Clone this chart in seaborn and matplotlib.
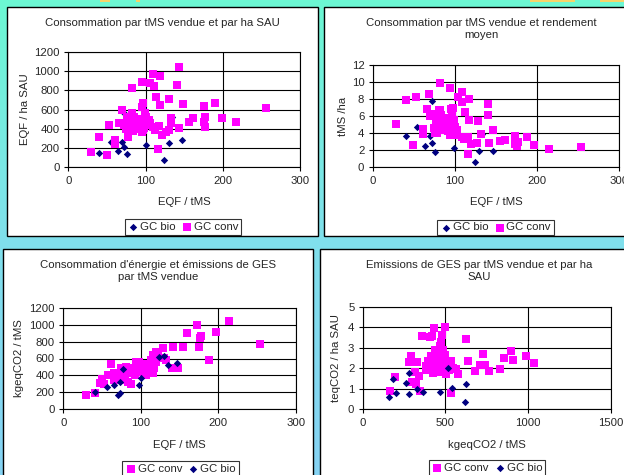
import numpy as np
import pandas as pd
import matplotlib
matplotlib.use("Agg")
from matplotlib import pyplot as plt
from matplotlib.patches import Rectangle
import seaborn as sns

# ---- data ----
# haut gauche : EQF / tMS  vs  EQF / ha SAU
tl_bio_x = [40, 55, 64, 70, 72, 72, 76, 97, 100, 124, 130, 134, 147]
tl_bio_y = [150, 265, 170, 260, 215, 565, 135, 615, 228, 76, 250, 520, 284]
tl_conv_x = [29, 50, 40, 52, 61, 61, 69.6, 82.6, 95.7, 106, 110, 119, 110.4, 142.6, 141,
             114, 129.6, 119, 96.5, 95.7, 147.8, 175, 190, 256, 161.7, 155.7, 177, 175,
             177, 198.7, 217, 143.5, 132.6, 133, 130.4, 126, 121.7, 117.4, 116.5, 112,
             82.6, 99, 77.4, 95.7, 78, 65, 82.6, 104, 100, 76, 89, 93.5,
             80, 86, 90, 98, 103, 84, 72, 92, 106, 88, 75, 96, 110, 101, 85, 70]
tl_conv_y = [156, 128, 318, 436, 283, 241, 595, 823, 882, 880, 966, 948, 844, 1041, 855,
             730, 709, 647, 664, 630, 657, 640, 664, 616, 509, 473, 526, 473,
             415, 516, 467, 405, 516, 457, 387, 370, 335, 429, 187, 387,
             560, 560, 311, 370, 457, 462, 491, 491, 525, 525, 422, 474,
             430, 400, 450, 410, 440, 380, 440, 500, 455, 470, 400, 390, 420, 470, 520, 460]

# haut droite : EQF / tMS  vs  tMS / ha
tr_bio_x = [40, 54.5, 64, 69.5, 72.7, 72.7, 76, 97, 99.4, 124, 129.7, 132.5, 146.7]
tr_bio_y = [3.7, 4.7, 2.55, 3.67, 2.9, 7.8, 1.76, 6.4, 2.23, 0.59, 1.95, 3.9, 1.95]
tr_conv_x = [28.7, 40, 49.3, 53, 60.6, 60.6, 68.7, 66, 70, 75, 76, 82, 82, 94, 95, 97.4,
             104, 108.7, 108.7, 117, 112, 117, 116, 116, 120, 127, 128, 131.7, 140.6,
             139.8, 141.4, 146.7, 154.7, 160.8, 173.3, 173, 175.8, 177, 188, 196, 214, 253,
             74.7, 76.8, 78.8, 80.8, 82.8, 84.8, 86.9, 89.7, 92, 93.7, 96.2, 97, 98.6,
             101, 103, 99, 93.7, 109, 111, 72.7, 76.8, 80.8, 82.8, 100, 103]
tr_conv_y = [5.08, 7.9, 2.58, 8.2, 4.53, 3.85, 8.55, 6.85, 6.0, 6.2, 4.0, 9.85, 6.7, 9.26,
             6.8, 6.9, 8.2, 8.87, 7.65, 7.97, 6.45, 5.5, 1.56, 3.6, 2.73, 2.9, 5.42, 3.85,
             7.38, 6.1, 2.82, 4.42, 3.05, 3.2, 3.72, 2.75, 2.45, 2.95, 3.5, 2.58, 2.15, 2.42,
             4.6, 5.2, 4.02, 4.8, 5.4, 4.4, 5.0, 5.8, 4.2, 5.2, 6.0, 4.8, 4.1,
             4.4, 3.8, 5.5, 3.8, 3.5, 3.35, 6.17, 5.98, 6.75, 6.17, 4.77, 4.4]

# bas gauche : EQF / tMS  vs  kgeqCO2 / tMS
bl_conv_x = [29, 40.6, 50, 52, 61, 57, 66, 70.5, 75, 81, 87.6, 85.5, 94, 90, 98, 102.6,
             107, 109, 113, 116, 119.6, 121.8, 117.5, 128, 130, 132.5, 140, 147.4, 141,
             154, 160, 173, 175, 176, 177, 188, 196.6, 213.7, 253, 107, 83, 72.6, 79,
             92, 98, 66, 47, 88, 95, 104, 111, 115, 78, 84, 100, 120, 93]
bl_conv_y = [165, 197, 354, 300, 531, 405, 346, 405, 484, 504, 299, 425, 563, 484, 445, 504,
             425, 535, 583, 642, 681, 642, 484, 720, 602, 583, 484, 484, 732,
             732, 906, 992, 740, 839, 870, 583, 917, 1047, 768, 405, 327, 346, 386,
             445, 563, 425, 307, 460, 520, 470, 500, 430, 430, 470, 540, 560, 400]
bl_bio_x = [41.5, 56, 65, 70.5, 73.5, 73.5, 77, 97.4, 100, 124, 129.5, 134.6, 146.6]
bl_bio_y = [200, 268, 283, 165, 189, 327, 472, 283, 374, 622, 634, 520, 543]

# bas droite : kgeqCO2 / tMS  vs  teqCO2 / ha SAU
br_conv_x = [163, 198, 278, 294, 331, 318, 341, 300, 320, 349, 361, 405, 430, 480, 500,
             623, 637, 536, 724, 708, 738, 681, 760, 829, 853, 893, 905, 984, 1034,
             577, 546, 566, 536, 516, 496, 486, 466, 435, 415, 395, 381, 385, 425,
             445, 456, 502, 486, 522, 470, 502, 431, 405, 445, 476, 420, 455]
br_conv_y = [0.89, 1.59, 2.29, 2.61, 2.29, 1.83, 1.62, 1.35, 1.22, 0.89, 3.59, 3.54, 3.98,
             3.62, 4.03, 3.41, 2.35, 0.81, 2.68, 2.16, 2.16, 1.86, 1.86, 1.97, 2.5, 2.84,
             2.4, 2.6, 2.24, 1.71, 2.0, 1.95, 2.35, 2.35, 2.67, 2.9, 3.1, 2.9, 2.6, 2.35,
             2.1, 1.9, 1.75, 2.1, 1.8, 1.72, 2.3, 1.9, 2.5, 2.1, 2.35, 2.1, 2.7, 3.3,
             3.55, 2.2]
br_bio_x = [161, 183, 204, 262, 280, 280, 329, 367, 464, 514, 542, 615, 627]
br_bio_y = [0.62, 1.46, 0.78, 1.27, 1.79, 0.73, 0.99, 0.84, 0.84, 2.0, 1.06, 0.36, 1.22]

PINK = "#ff00ff"
NAVY = "#000080"
W, H = 624, 475

sns.set_style("white")
plt.rcParams["font.family"] = ["Liberation Sans", "DejaVu Sans"]
plt.rcParams["font.size"] = 8.2

fig = plt.figure(figsize=(W / 100, H / 100), dpi=100)

# fond degrade
bg = fig.add_axes([0, 0, 1, 1], zorder=-10)
top = np.array([0x6c, 0xf8, 0xd3]) / 255
mid = np.array([0x80, 0xe0, 0xec]) / 255
bot = np.array([0x86, 0xd3, 0xf4]) / 255
t = np.linspace(0, 1, 200)[:, None]
grad = np.where(t < 0.5, top + (mid - top) * (t / 0.5), mid + (bot - mid) * ((t - 0.5) / 0.5))
bg.imshow(grad[:, None, :], aspect="auto", extent=[0, 1, 0, 1])
bg.set_axis_off()
for x0, x1 in [(100, 110), (136, 140), (530, 575), (600, 624)]:
    bg.add_patch(Rectangle((x0 / W, 1 - 2 / H), (x1 - x0) / W, 2 / H, color="#f6d46a", lw=0))


def px_rect(x0, y0, x1, y1):
    return (x0 / W, 1 - y1 / H, (x1 - x0) / W, (y1 - y0) / H)


def panel(box, ax_px, title, xlabel, ylabel, xlim, xticks, ylim, yticks, series,
          title_y, legend_c, xlabel_y, ylabel_x):
    x, y, w, h = px_rect(*box)
    fig.patches.append(Rectangle((x, y), w, h, transform=fig.transFigure,
                                 facecolor="white", edgecolor="black", lw=1.0, zorder=-5))
    ax = fig.add_axes(px_rect(*ax_px))
    for sx, sy, kind, lab in series:
        if kind == "conv":
            sns.scatterplot(x=sx, y=sy, marker="s", color=PINK, s=30, linewidth=0,
                            ax=ax, label=lab, zorder=3, clip_on=False)
        else:
            sns.scatterplot(x=sx, y=sy, marker="D", color=NAVY, s=14, linewidth=0,
                            ax=ax, label=lab, zorder=3, clip_on=False)
    ax.set_xlim(*xlim)
    ax.set_ylim(*ylim)
    ax.set_xticks(xticks)
    ax.set_yticks(yticks)
    ax.grid(True, color="black", lw=0.8)
    ax.set_axisbelow(True)
    for sp in ax.spines.values():
        sp.set_color("black")
        sp.set_linewidth(0.8)
    ax.tick_params(direction="out", length=3, width=0.8, color="black", pad=3,
                   bottom=True, left=True, labelsize=8.2)
    ax.set_xlabel("")
    ax.set_ylabel("")
    cx = (box[0] + box[2]) / 2
    fig.text(cx / W, 1 - title_y / H, title, ha="center", va="center", fontsize=8.2,
             linespacing=1.25)
    fig.text(((ax_px[0] + ax_px[2]) / 2) / W, 1 - xlabel_y / H, xlabel, ha="center",
             va="center", fontsize=8.2)
    fig.text(ylabel_x / W, 1 - ((ax_px[1] + ax_px[3]) / 2) / H, ylabel, ha="center",
             va="center", rotation=90, fontsize=8.2)
    leg = ax.legend(loc="center", bbox_to_anchor=(legend_c[0] / W, 1 - legend_c[1] / H),
                    bbox_transform=fig.transFigure, ncol=2, frameon=True, fancybox=False,
                    fontsize=8.2, handletextpad=0.1, columnspacing=0.5, borderpad=0.25,
                    handlelength=1.0, borderaxespad=0)
    leg.get_frame().set_edgecolor("black")
    leg.get_frame().set_linewidth(0.8)
    return ax


panel((7, 7, 318, 236), (68.3, 51.7, 300.3, 167.3),
      "Consommation par tMS vendue et par ha SAU", "EQF / tMS", "EQF / ha SAU",
      (0, 300), [0, 100, 200, 300], (0, 1200), range(0, 1201, 200),
      [(tl_bio_x, tl_bio_y, "bio", "GC bio"), (tl_conv_x, tl_conv_y, "conv", "GC conv")],
      23, (183, 227), 202, 25)

panel((324, 7, 638, 236), (372.7, 65, 619.3, 167.3),
      "Consommation par tMS vendue et rendement\nmoyen", "EQF / tMS", "tMS /ha",
      (0, 300), [0, 100, 200, 300], (0, 12), range(0, 13, 2),
      [(tr_bio_x, tr_bio_y, "bio", "GC bio"), (tr_conv_x, tr_conv_y, "conv", "GC conv")],
      29, (495.5, 227.5), 202, 343)

panel((3, 249, 313, 482), (63.3, 307.7, 296, 409.3),
      "Consommation d'énergie et émissions de GES\npar tMS vendue", "EQF / tMS",
      "kgeqCO2 / tMS",
      (0, 300), [0, 100, 200, 300], (0, 1200), range(0, 1201, 200),
      [(bl_conv_x, bl_conv_y, "conv", "GC conv"), (bl_bio_x, bl_bio_y, "bio", "GC bio")],
      271.5, (180.5, 469), 445, 19)

panel((320, 249, 638, 482), (362.7, 306.7, 611, 409.3),
      "Emissions de GES par tMS vendue et par ha\nSAU", "kgeqCO2 / tMS", "teqCO2 / ha SAU",
      (0, 1500), [0, 500, 1000, 1500], (0, 5), range(0, 6),
      [(br_conv_x, br_conv_y, "conv", "GC conv"), (br_bio_x, br_bio_y, "bio", "GC bio")],
      271.5, (487, 468), 445, 336)

fig.savefig("out.png", dpi=100)
